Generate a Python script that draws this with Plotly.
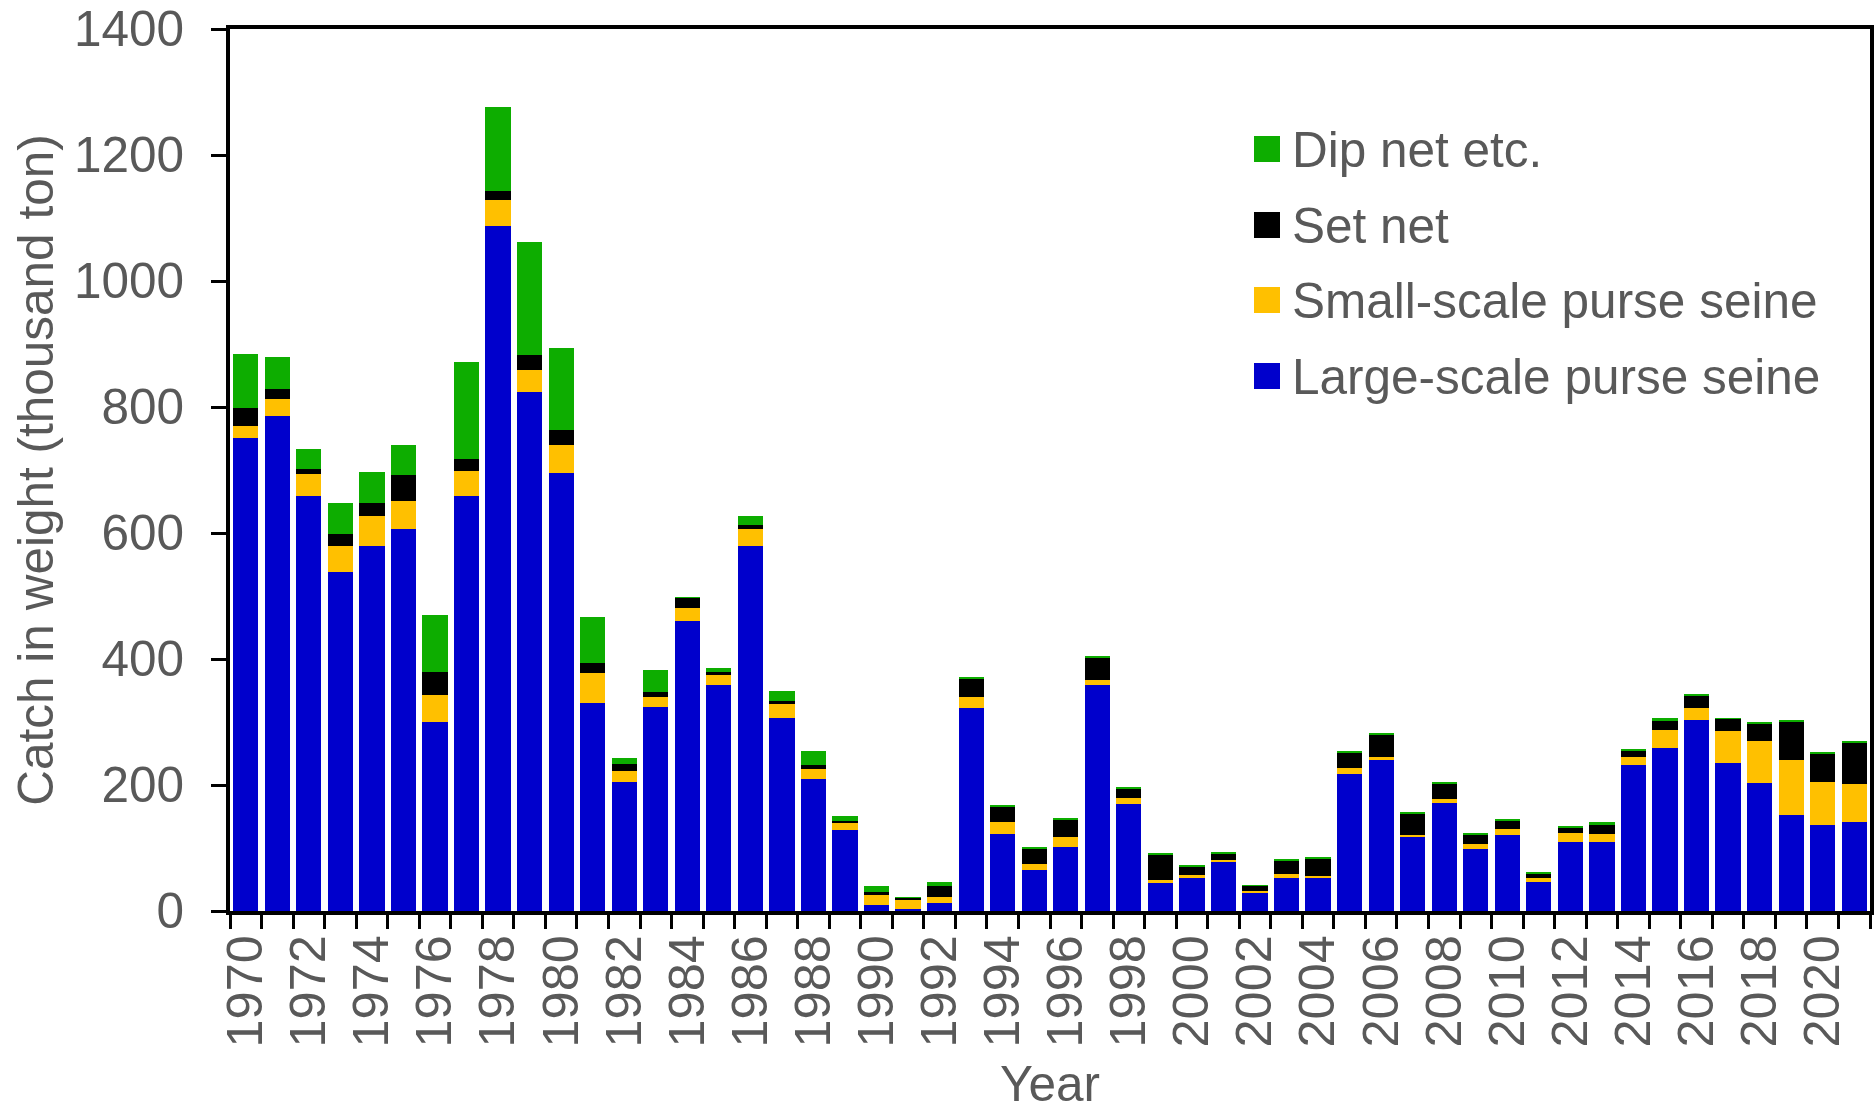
import plotly.graph_objects as go

years = list(range(1970, 2022))
large_scale = [751, 786, 658, 538, 579, 607, 300, 659, 1087, 824,
               696, 330, 205, 324, 461, 358, 580, 307, 210, 128,
               10, 3, 12, 322, 123, 65, 101, 359, 170, 44,
               52, 78, 28, 53, 53, 217, 240, 118, 172, 99,
               120, 46, 109, 110, 232, 259, 303, 235, 203, 152,
               137, 142]
small_scale = [19, 27, 36, 42, 48, 44, 43, 39, 42, 35,
               44, 48, 18, 15, 20, 17, 26, 21, 16, 13,
               16, 15, 10, 17, 19, 9, 16, 8, 10, 6,
               5, 3, 4, 6, 3, 10, 4, 3, 5, 8,
               10, 7, 15, 13, 12, 28, 19, 51, 67, 87,
               68, 60]
set_net = [28, 15, 7, 19, 21, 41, 37, 19, 14, 24,
           24, 15, 11, 8, 16, 5, 6, 6, 6, 2,
           4, 3, 18, 30, 24, 25, 29, 35, 15, 40,
           14, 11, 8, 21, 28, 25, 36, 33, 26, 14,
           14, 6, 8, 15, 10, 16, 19, 19, 27, 61,
           44, 64]
dip_net = [86, 52, 32, 49, 49, 48, 90, 155, 133, 179,
           130, 73, 9, 35, 1, 5, 15, 15, 22, 8,
           10, 1, 6, 3, 1, 2, 1, 2, 1, 1,
           1, 1, 1, 1, 1, 1, 2, 3, 1, 2,
           1, 2, 2, 3, 3, 3, 4, 1, 3, 3,
           4, 4]

series_names = ["Large-scale purse seine", "Small-scale purse seine", "Set net", "Dip net etc."]
series_values = [large_scale, small_scale, set_net, dip_net]
series_colors = ["#0000CC", "#FFC000", "#000000", "#0DAD00"]

tick_labels = [str(y) if y % 2 == 0 else "" for y in years]
cats = [str(y) for y in years]

FONT = "Liberation Sans, Arial, sans-serif"
GREY = "#595959"
FS = 49.5

W, H = 1874, 1111
L, R, T, B = 230, 4, 29, 200

fig = go.Figure()
for name, vals, col in zip(series_names, series_values, series_colors):
    fig.add_trace(go.Bar(x=cats, y=vals, name=name, marker=dict(color=col, line=dict(width=0)),
                         showlegend=False))

# custom legend (large square swatches)
pw, ph = W - L - R, H - T - B
def px2paper(x, y):
    return (x - L) / pw, (H - B - y) / ph

legend_rows = [149, 225, 300, 376]
legend_order = [3, 2, 1, 0]
for row_y, idx in zip(legend_rows, legend_order):
    x0, y0 = px2paper(1254, row_y - 13)
    x1, y1 = px2paper(1280, row_y + 13)
    fig.add_shape(type="rect", xref="paper", yref="paper", x0=x0, x1=x1, y0=y1, y1=y0,
                  fillcolor=series_colors[idx], line=dict(width=0))
    tx, ty = px2paper(1290, row_y)
    fig.add_annotation(xref="paper", yref="paper", x=tx, y=ty, xanchor="left", yanchor="middle",
                       text=series_names[idx], showarrow=False,
                       font=dict(family=FONT, size=FS, color=GREY))

fig.update_layout(
    width=W, height=H,
    margin=dict(l=L, r=R, t=T, b=B, autoexpand=False),
    barmode="stack", bargap=0.2,
    plot_bgcolor="white", paper_bgcolor="white",
    font=dict(family=FONT, size=FS, color=GREY),
)
fig.update_xaxes(
    type="category", tickmode="array", tickvals=cats, ticktext=tick_labels,
    tickson="boundaries", ticks="outside", ticklen=14, tickwidth=3, tickcolor="black",
    tickangle=-90, tickfont=dict(family=FONT, size=50.5, color=GREY),
    showline=True, linecolor="black", linewidth=4, mirror=True,
    showgrid=False, range=[-0.5, len(cats) - 0.5],
    title=dict(text="Year", font=dict(family=FONT, size=FS, color=GREY), standoff=36),
)
fig.update_yaxes(
    range=[0, 1400], tickmode="array", tickvals=[0, 200, 400, 600, 800, 1000, 1200, 1400],
    ticks="outside", ticklen=15, tickwidth=3, tickcolor="black",
    tickfont=dict(family=FONT, size=FS, color=GREY), ticklabelstandoff=17,
    showline=True, linecolor="black", linewidth=4, mirror=True,
    showgrid=False, zeroline=False,
    title=dict(text="Catch in weight (thousand ton)", font=dict(family=FONT, size=FS, color=GREY), standoff=6),
)

fig.write_html("out.html", config={"displayModeBar": False},
               post_script="document.body.style.margin='0';document.body.style.overflow='hidden';")
